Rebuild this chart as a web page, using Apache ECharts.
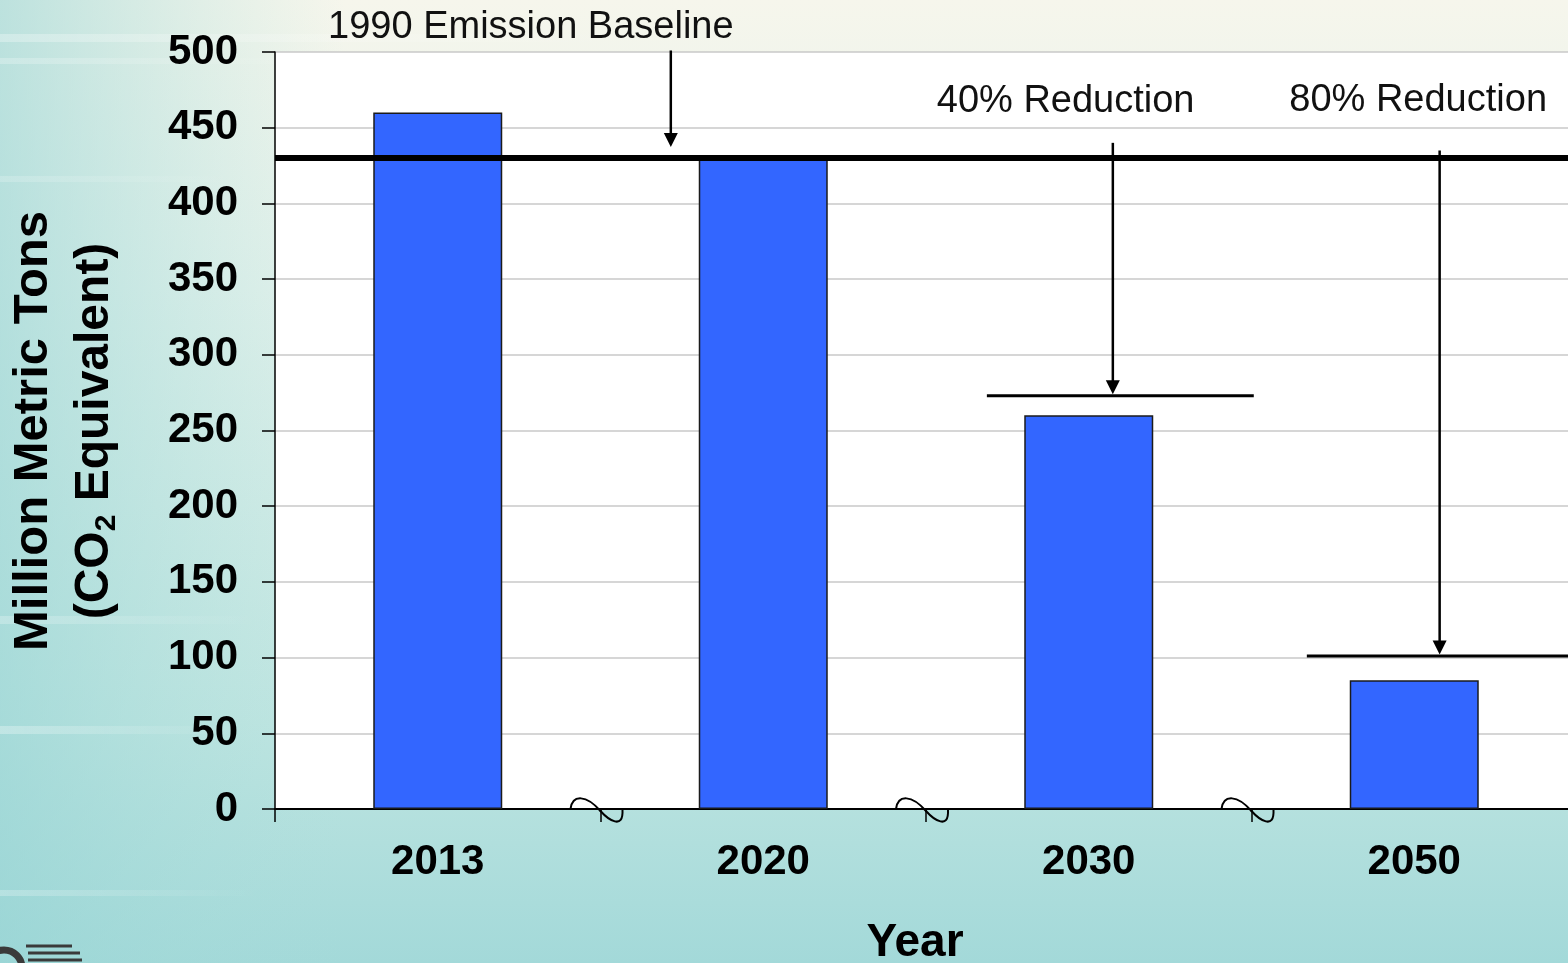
<!DOCTYPE html>
<html>
<head>
<meta charset="utf-8">
<title>Emission targets</title>
<script src="https://cdn.jsdelivr.net/npm/echarts@6/dist/echarts.min.js"></script>
<style>
  html, body { margin: 0; padding: 0; overflow: hidden; }
  #chart { width: 1568px; height: 963px; }
</style>
</head>
<body>
<div id="chart"></div>
<script>
// ---- data ----
const years = ['2013', '2020', '2030', '2050'];
const emissions = [460, 430, 260, 85];          // million metric tons CO2e
const targetLabels = ['1990 Emission Baseline', '40% Reduction', '80% Reduction'];
const targetYears = ['2020', '2030', '2050'];
const targetLevels = [430, 273, 101];
const breakAfter = ['2013', '2020', '2030'];    // broken time scale between bars

// ---- presentation ----
const FONT = "'Liberation Sans', Arial, Helvetica, sans-serif";

// x positions are fractional category indices (0 = centre of first category),
// vertical positions of arrow tails and labels are in axis units.
const annotationLayout = [
  { from: -0.5, to: 3.7, width: 6, arrowX: 0.716, arrowTail: 501, tipGap: 11, labelX: 0.286, labelY: 516 },
  { from: 1.687, to: 2.507, width: 3, arrowX: 2.074, arrowTail: 440, tipGap: 1.5, labelX: 1.929, labelY: 467 },
  { from: 2.670, to: 3.7, width: 3, arrowX: 3.078, arrowTail: 435, tipGap: 1.5, labelX: 3.012, labelY: 468 }
];

const chart = echarts.init(document.getElementById('chart'), null, { renderer: 'canvas' });

function renderTarget(params, api) {
  const L = annotationLayout[params.dataIndex];
  const p0 = api.coord([0, 0])[0];
  const band = api.coord([1, 0])[0] - p0;
  const cx = pos => p0 + pos * band;
  const cy = v => api.coord([0, v])[1];
  const y = cy(api.value(1));
  const ax = cx(L.arrowX);
  const tip = y - L.tipGap;
  const headH = 14, headW = 14;
  return {
    type: 'group',
    children: [
      { type: 'line', shape: { x1: cx(L.from), y1: y, x2: cx(L.to), y2: y },
        style: { stroke: '#000', lineWidth: L.width } },
      { type: 'line', shape: { x1: ax, y1: cy(L.arrowTail), x2: ax, y2: tip - headH + 2 },
        style: { stroke: '#000', lineWidth: 2.5 } },
      { type: 'polygon', shape: { points: [[ax - headW / 2, tip - headH], [ax + headW / 2, tip - headH], [ax, tip]] },
        style: { fill: '#000' } },
      { type: 'text', style: { text: targetLabels[params.dataIndex], x: cx(L.labelX), y: cy(L.labelY),
        align: 'center', verticalAlign: 'middle', font: '38px ' + FONT, fill: '#111' } }
    ]
  };
}

// tilde-shaped break mark centred on the boundary between two categories
function renderBreak(params, api) {
  const i = years.indexOf(breakAfter[params.dataIndex]);
  const a = api.coord([i, 0]);
  const b = api.coord([i + 1, 0]);
  const x = (a[0] + b[0]) / 2;
  const y = a[1];
  const st = { stroke: '#000', lineWidth: 2, fill: null, lineCap: 'round' };
  return {
    type: 'group',
    children: [
      { type: 'bezierCurve', shape: { x1: x - 30, y1: y, cpx1: x - 28, cpy1: y - 15, cpx2: x - 14, cpy2: y - 14, x2: x, y2: y + 2 }, style: st },
      { type: 'bezierCurve', shape: { x1: x, y1: y + 2, cpx1: x + 8, cpy1: y + 11, cpx2: x + 23, cpy2: y + 21, x2: x + 22, y2: y + 1 }, style: st }
    ]
  };
}

// soft horizontal light streaks on the backdrop
function streak(y, w, h, a) {
  return { type: 'rect', z: -98, silent: true, shape: { x: 0, y: y, width: w, height: h },
    style: { fill: new echarts.graphic.LinearGradient(0, 0, 1, 0, [
      { offset: 0, color: 'rgba(255,255,255,' + a + ')' }, { offset: 1, color: 'rgba(255,255,255,0)' }]) } };
}

const option = {
  animation: false,
  grid: {
    left: 275, top: 52, width: 1302, height: 757,
    show: true, backgroundColor: '#ffffff', borderWidth: 0,
    outerBoundsMode: 'none', containLabel: false
  },
  xAxis: {
    type: 'category',
    data: years,
    boundaryGap: true,
    axisLine: { show: true, lineStyle: { color: '#000', width: 2 } },
    axisTick: { show: true, length: 13, lineStyle: { color: '#000', width: 1.5 } },
    axisLabel: { interval: 0, margin: 32, color: '#000', fontFamily: FONT, fontWeight: 'bold', fontSize: 42 },
    splitLine: { show: false }
  },
  yAxis: {
    type: 'value',
    min: 0, max: 500, interval: 50,
    axisLine: { show: true, lineStyle: { color: '#000', width: 1.5 } },
    axisTick: { show: true, length: 13, lineStyle: { color: '#000', width: 1.5 } },
    axisLabel: { margin: 37, color: '#000', fontFamily: FONT, fontWeight: 'bold', fontSize: 42 },
    splitLine: { show: true, lineStyle: { color: '#c8c8c8', width: 1.5 } }
  },
  graphic: [
    // backdrop
    { type: 'rect', z: -100, silent: true, shape: { x: 0, y: 0, width: 1568, height: 963 },
      style: { fill: new echarts.graphic.LinearGradient(0, 0, 0, 1, [
        { offset: 0, color: '#f6f6ec' }, { offset: 0.3, color: '#e2f1eb' },
        { offset: 0.75, color: '#bfe5e1' }, { offset: 1, color: '#a3d9d9' }]) } },
    { type: 'rect', z: -99, silent: true, shape: { x: 0, y: 0, width: 1568, height: 963 },
      style: { fill: new echarts.graphic.LinearGradient(0, 0, 1, 0, [
        { offset: 0, color: 'rgba(150,212,212,0.6)' }, { offset: 0.22, color: 'rgba(170,222,218,0.0)' }]) } },
    streak(34, 650, 8, 0.3),
    streak(58, 320, 6, 0.25),
    streak(176, 240, 6, 0.2),
    streak(616, 260, 8, 0.25),
    streak(726, 240, 8, 0.3),
    streak(890, 260, 6, 0.25),
    // corner emblem
    { type: 'arc', z: 5, silent: true, shape: { cx: 4, cy: 968, r: 18, startAngle: Math.PI, endAngle: 2 * Math.PI },
      style: { stroke: '#3a3a3a', lineWidth: 7, fill: null } },
    { type: 'line', z: 5, silent: true, shape: { x1: 26, y1: 946, x2: 72, y2: 946 }, style: { stroke: '#3a3a3a', lineWidth: 3 } },
    { type: 'line', z: 5, silent: true, shape: { x1: 28, y1: 953, x2: 80, y2: 953 }, style: { stroke: '#3a3a3a', lineWidth: 3 } },
    { type: 'line', z: 5, silent: true, shape: { x1: 28, y1: 960, x2: 82, y2: 960 }, style: { stroke: '#3a3a3a', lineWidth: 3 } },
    // axis titles
    { type: 'text', z: 10, x: 915, y: 943,
      style: { text: 'Year', align: 'center', verticalAlign: 'middle', font: 'bold 46px ' + FONT, fill: '#000' } },
    { type: 'text', z: 10, x: 33, y: 431, rotation: Math.PI / 2,
      style: { text: 'Million Metric Tons', align: 'center', verticalAlign: 'middle', font: 'bold 49px ' + FONT, fill: '#000' } },
    { type: 'text', z: 10, x: 95, y: 431, rotation: Math.PI / 2,
      style: {
        text: '{m|(CO}{s|2}{m| Equivalent)}', align: 'center', verticalAlign: 'middle',
        rich: {
          m: { fontFamily: FONT, fontWeight: 'bold', fontSize: 48, fill: '#000', lineHeight: 54 },
          s: { fontFamily: FONT, fontWeight: 'bold', fontSize: 30, fill: '#000', verticalAlign: 'bottom', lineHeight: 54 }
        }
      } }
  ],
  series: [
    {
      name: 'Emissions',
      type: 'bar',
      data: emissions,
      barWidth: 129,
      z: 2,
      itemStyle: { color: '#3366ff', borderColor: '#1b1b1b', borderWidth: 1.5 }
    },
    {
      name: 'Targets',
      type: 'custom',
      z: 4,
      clip: false,
      encode: { x: 0, y: 1 },
      data: targetYears.map((y, i) => [y, targetLevels[i]]),
      renderItem: renderTarget
    },
    {
      name: 'Scale breaks',
      type: 'custom',
      z: 5,
      clip: false,
      encode: { x: 0, y: 1 },
      data: breakAfter.map(y => [y, 0]),
      renderItem: renderBreak
    }
  ]
};

chart.setOption(option);
</script>
</body>
</html>
